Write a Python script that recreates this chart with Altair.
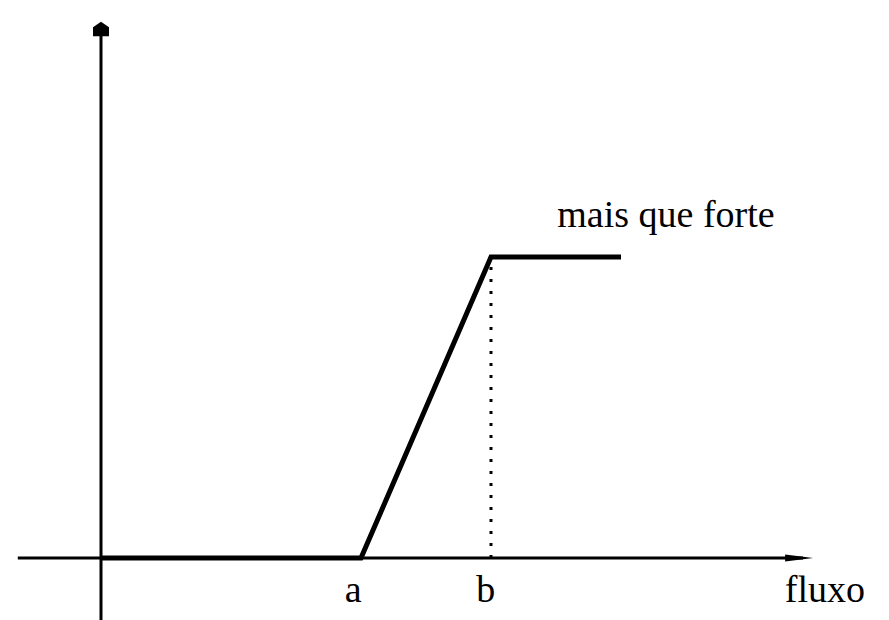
import altair as alt
import pandas as pd

# Membership function for "mais que forte" over the flow variable
curve_x = [0.0, 2.0, 3.0, 4.0]
curve_y = [0.0, 0.0, 1.0, 1.0]

# Axis segments (x, y) -> (x2, y2)
axis_x1 = [-0.64, 0.0]
axis_y1 = [0.0, -0.21]
axis_x2 = [5.40, 0.0]
axis_y2 = [0.0, 1.76]

# Label texts and anchors
tick_labels = ["a", "b"]
tick_pos = [1.94, 2.96]
axis_label = "fluxo"
curve_label = "mais que forte"

X_DOMAIN = [-101 / 130, 788 / 130]
Y_DOMAIN = [-62 / 301, 558 / 301]

xs = alt.Scale(domain=X_DOMAIN, nice=False, zero=False)
ys = alt.Scale(domain=Y_DOMAIN, nice=False, zero=False)

curve = pd.DataFrame({"x": curve_x, "y": curve_y})
axes = pd.DataFrame({"x": axis_x1, "y": axis_y1, "x2": axis_x2, "y2": axis_y2})
ticks = pd.DataFrame({"x": tick_pos, "y": [-0.146] * 2, "t": tick_labels})
xlab = pd.DataFrame({"x": [5.26], "y": [-0.146], "t": [axis_label]})
clab = pd.DataFrame({"x": [3.51], "y": [1.10], "t": [curve_label]})
guide = pd.DataFrame({"x": [curve_x[2]], "y": [0.0], "y2": [curve_y[2]]})
arrow_r = pd.DataFrame({"x": [5.37], "y": [0.0]})
arrow_u = pd.DataFrame({"x": [0.0], "y": [1.755]})

X = lambda f="x": alt.X(f, type="quantitative", scale=xs, axis=None)
Y = lambda f="y": alt.Y(f, type="quantitative", scale=ys, axis=None)

axis_rules = alt.Chart(axes).mark_rule(color="black", strokeWidth=3).encode(
    x=X(), y=Y(), x2="x2", y2="y2"
)

dotted = alt.Chart(guide).mark_rule(
    color="black", strokeWidth=3, strokeDash=[3, 9]
).encode(x=X(), y=Y(), y2="y2")

line = alt.Chart(curve).mark_line(
    color="black", strokeWidth=5, strokeCap="butt", strokeJoin="miter"
).encode(x=X(), y=Y(), order=alt.Order("x:Q"))

head_r = alt.Chart(arrow_r).mark_point(
    shape="M -1 -0.25 L 1 0 L -1 0.25 Z", size=784, filled=True,
    color="black", opacity=1, strokeWidth=0
).encode(x=X(), y=Y())

head_u = alt.Chart(arrow_u).mark_point(
    shape="M 0 -1 L 1 -0.3 L 1 0.8 L -1 0.8 L -1 -0.3 Z", size=256, filled=True,
    color="black", opacity=1, strokeWidth=0
).encode(x=X(), y=Y())

font = dict(font="Liberation Serif", fontSize=38, color="black", baseline="alphabetic")

tick_text = alt.Chart(ticks).mark_text(align="center", **font).encode(
    x=X(), y=Y(), text="t:N"
)
x_text = alt.Chart(xlab).mark_text(align="left", **font).encode(
    x=X(), y=Y(), text="t:N"
)
c_text = alt.Chart(clab).mark_text(align="left", **font).encode(
    x=X(), y=Y(), text="t:N"
)

chart = alt.layer(
    axis_rules, dotted, line, head_r, head_u, tick_text, x_text, c_text
).properties(
    width=889, height=620, autosize=alt.AutoSizeParams(type="none"),
    padding=0, background="white"
).configure_view(stroke=None)

chart.save("out.html", embed_options={"renderer": "svg", "actions": False})
